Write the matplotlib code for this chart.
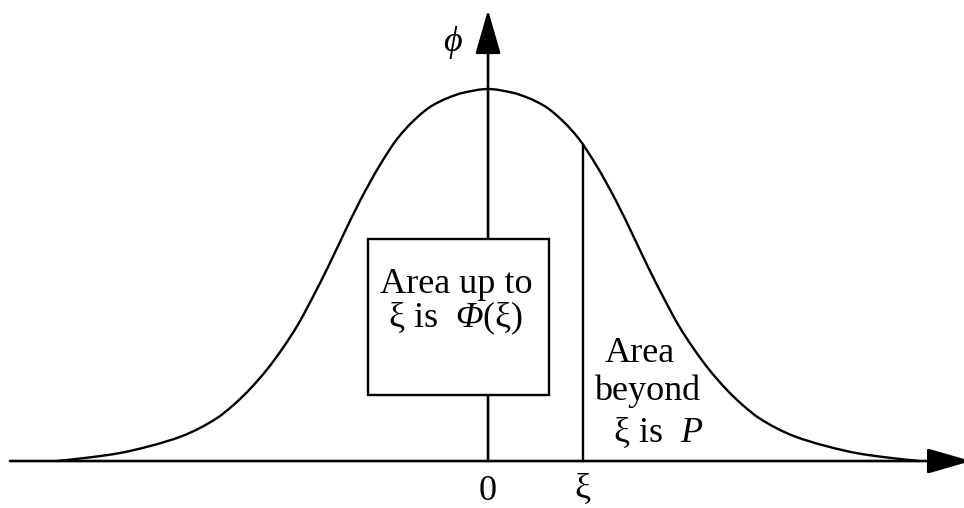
import numpy as np
import matplotlib
matplotlib.use('Agg')
import matplotlib.pyplot as plt
from matplotlib.patches import Rectangle, PathPatch
from matplotlib.path import Path

plt.rcParams['font.family'] = ['Liberation Serif', 'DejaVu Serif']
plt.rcParams['mathtext.fontset'] = 'custom'
plt.rcParams['mathtext.rm'] = 'Liberation Serif'
plt.rcParams['mathtext.it'] = 'Liberation Serif:italic'
# \mathsf is used for italic capital Greek (mathtext forces \mathit capitals upright)
plt.rcParams['mathtext.sf'] = 'Liberation Serif:italic'

# half of the bell curve, from the centre outwards (x in sigma units)
x_half = [0.00, 0.18, 0.30, 0.42, 0.55, 0.66, 0.79, 0.93, 1.06, 1.17, 1.28,
          1.39, 1.50, 1.61, 1.74, 1.86, 1.98, 2.23, 2.47, 2.71, 2.96, 3.15]
phi_half = [0.400, 0.396, 0.390, 0.381, 0.365, 0.347, 0.318, 0.281, 0.242,
            0.208, 0.176, 0.146, 0.121, 0.099, 0.077, 0.060, 0.046, 0.027,
            0.016, 0.008, 0.003, 0.000]
xi = 0.69

x_curve = np.concatenate([-np.array(x_half[:0:-1]), x_half])
phi_curve = np.concatenate([phi_half[:0:-1], phi_half])


def smooth_path(x, y):
    # monotone cubic (Fritsch-Carlson slopes) through the points, as Bezier segments
    x = np.asarray(x, float)
    y = np.asarray(y, float)
    h = np.diff(x)
    d = np.diff(y) / h
    m = np.zeros_like(y)
    m[0], m[-1] = d[0], d[-1]
    for i in range(1, len(x) - 1):
        if d[i - 1] * d[i] > 0:
            w1 = 2 * h[i] + h[i - 1]
            w2 = h[i] + 2 * h[i - 1]
            m[i] = (w1 + w2) / (w1 / d[i - 1] + w2 / d[i])
    verts = [(x[0], y[0])]
    codes = [Path.MOVETO]
    for i in range(len(x) - 1):
        verts += [(x[i] + h[i] / 3, y[i] + m[i] * h[i] / 3),
                  (x[i + 1] - h[i] / 3, y[i + 1] - m[i + 1] * h[i] / 3),
                  (x[i + 1], y[i + 1])]
        codes += [Path.CURVE4] * 3
    return Path(verts, codes)


fig = plt.figure(figsize=(9.64, 5.08), dpi=100)
ax = fig.add_axes([0, 0, 1, 1])
ax.set_xlim(-3.562, 3.474)
ax.set_ylim(-0.0505, 0.4957)
ax.axis('off')

lw = 1.9
ax.add_patch(PathPatch(smooth_path(x_curve, phi_curve), fill=False,
                       edgecolor='black', lw=1.7, zorder=3))

# axes with arrow heads
arrow = dict(arrowstyle='-|>,head_length=2.74,head_width=0.79', mutation_scale=10,
             lw=lw, color='black', shrinkA=0, shrinkB=0)
ax.annotate('', xy=(3.526, 0), xytext=(-3.489, 0), arrowprops=arrow,
            annotation_clip=False, zorder=2)
ax.annotate('', xy=(0, 0.485), xytext=(0, 0), arrowprops=arrow,
            annotation_clip=False, zorder=2)

# vertical line at xi up to the curve
ax.plot([xi, xi], [0, np.interp(xi, x_curve, phi_curve)], color='black', lw=1.7, zorder=3)

fs = 26
ax.add_patch(Rectangle((-0.876, 0.071), 1.321, 0.1677, facecolor='white',
                       edgecolor='black', lw=1.7, zorder=4))
ax.text(-0.234, 0.1806, 'Area up to', fontsize=fs, ha='center', va='baseline', zorder=5)
ax.text(-0.234, 0.1441, r'ξ is  $\mathsf{Φ}$(ξ)', fontsize=fs, ha='center',
        va='baseline', zorder=5)

ax.text(1.109, 0.1065, 'Area', fontsize=fs, ha='center', va='baseline')
ax.text(1.161, 0.0656, 'beyond', fontsize=fs, ha='center', va='baseline')
ax.text(1.241, 0.0204, r'ξ is  $\mathit{P}$', fontsize=fs, ha='center', va='baseline')

ax.text(-0.255, 0.4505, r'$\mathit{ϕ}$', fontsize=fs, ha='center', va='center')
ax.text(0, -0.0419, '0', fontsize=fs, ha='center', va='baseline')
ax.text(xi, -0.040, 'ξ', fontsize=fs, ha='center', va='baseline')

fig.savefig('out.png', dpi=100)
